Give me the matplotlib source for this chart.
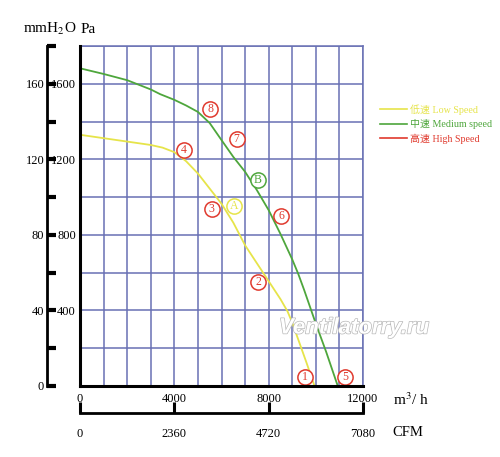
import numpy as np
import matplotlib
matplotlib.use("Agg")
import matplotlib.pyplot as plt
from matplotlib.lines import Line2D
import matplotlib.patheffects as pe

plt.rcParams['font.family'] = ['Liberation Serif', 'Noto Sans CJK SC']
plt.rcParams['mathtext.fontset'] = 'stix'

# low speed curve (m3/h, Pa)
low_flow = [0, 1000, 2000, 3000, 3500, 4000, 4500, 5000, 5500, 6000, 6500,
            7000, 7500, 8000, 8500, 8800, 9000, 9300, 9600, 9945]
low_pres = [1330, 1312, 1294, 1276, 1262, 1238, 1190, 1125, 1045, 965, 865,
            745, 650, 555, 460, 395, 335, 230, 125, 0]

# medium speed curve
med_flow = [0, 1000, 2000, 3000, 3400, 4000, 4500, 5000, 5500, 6000, 6500,
            7000, 7500, 8000, 8500, 9000, 9250, 9500, 9750, 10000, 10440, 10930]
med_pres = [1682, 1652, 1619, 1570, 1545, 1515, 1485, 1451, 1392, 1302, 1213,
            1134, 1037, 931, 805, 670, 595, 510, 420, 330, 180, 0]

# circled point labels
pt_names = ['8', '7', '4', 'B', '3', 'A', '6', '2', '1', '5']
pt_flow = [5515, 6640, 4420, 7550, 5590, 6530, 8540, 7550, 9520, 11250]
pt_pres = [1469, 1308, 1249, 1090, 937, 952, 899, 552, 49, 49]

x_ticks = [0, 4000, 8000, 12000]
pa_ticks = [400, 800, 1200, 1600]
mm_ticks = [0, 40, 80, 120, 160]
cfm_ticks = [0, 2360, 4720, 7080]

yellow = '#e6e44a'
green = '#4ea63c'
red = '#e03a2e'
gridc = '#6870b4'

fig = plt.figure(figsize=(5, 4.57), dpi=100)
ax = fig.add_axes([80/500, 71/457, 283/500, 340/457])
ax.set_xlim(0, 12000)
ax.set_ylim(0, 1800)

for x in np.arange(1000, 12001, 1000):
    ax.axvline(x, color=gridc, lw=1.1, zorder=1)
for y in np.arange(200, 1801, 200):
    ax.axhline(y, color=gridc, lw=1.1, zorder=1)

ax.plot(low_flow, low_pres, color=yellow, lw=1.3, zorder=3)
ax.plot(med_flow, med_pres, color=green, lw=1.3, zorder=3)

colors = {'A': yellow, 'B': green}
for n, fx, fy in zip(pt_names, pt_flow, pt_pres):
    c = colors.get(n, red)
    ax.scatter([fx], [fy], s=120, facecolors='white', edgecolors=c,
               linewidths=1.1, zorder=4)
    ax.text(fx, fy, n, color=c, fontsize=8.5, ha='center', va='center', zorder=5)

for s in ['top', 'right']:
    ax.spines[s].set_color(gridc)
    ax.spines[s].set_linewidth(1.1)
for s in ['left', 'bottom']:
    ax.spines[s].set_color('black')
    ax.spines[s].set_linewidth(2.2)
    ax.spines[s].set_zorder(6)

ax.set_xticks(x_ticks)
ax.set_yticks(pa_ticks)
ax.tick_params(axis='both', length=0, labelsize=9)
ax.tick_params(axis='x', pad=5)
ax.tick_params(axis='y', pad=3)

# mmH2O bracket axis
mm = ax.secondary_yaxis(-33/283, functions=(lambda p: p / 10, lambda m: m * 10))
mm.set_yticks(mm_ticks)
mm.set_yticks(np.arange(20, 181, 40), minor=True)
mm.tick_params(which='both', direction='in', length=6.5, width=3, labelsize=9, pad=2)
mm.spines['left'].set_linewidth(2)

# CFM axis
cfm = ax.secondary_xaxis(-27/340, functions=(lambda q: q * 0.59, lambda c: c / 0.59))
cfm.set_xticks(cfm_ticks)
cfm.tick_params(direction='in', length=8, width=2.2, labelsize=9, pad=11)
cfm.spines['bottom'].set_linewidth(2)

fig.text(23/500, 1 - 33/457, 'mmH$_2$O', fontsize=11, va='baseline')
fig.text(81/500, 1 - 33/457, 'Pa', fontsize=11, va='baseline')
fig.text(393/500, 1 - 400/457, 'm$^3$/ h', fontsize=11, va='center')
fig.text(392/500, 1 - 433/457, 'CFM', fontsize=10.5, va='center')

handles = [Line2D([], [], color=yellow, lw=1.2),
           Line2D([], [], color=green, lw=1.2),
           Line2D([], [], color=red, lw=1.2)]
labels = ['低速 Low Speed', '中速 Medium speed', '高速 High Speed']
leg = fig.legend(handles, labels, loc='upper left',
                 bbox_to_anchor=(380/500, 1 - 104/457), frameon=False,
                 fontsize=7.2, handlelength=2.7, handletextpad=0.3,
                 labelspacing=0.45, borderpad=0, borderaxespad=0)
for t, c in zip(leg.get_texts(), [yellow, green, red]):
    t.set_color(c)

ax.text(354/500, 1 - 328/457, 'Ventilatorry.ru', transform=fig.transFigure,
        fontsize=16, fontstyle='italic', fontweight='bold',
        family='Liberation Sans', color='white', ha='center', va='center',
        zorder=7, path_effects=[pe.withStroke(linewidth=1.0, foreground='#b8b8b8')])

fig.savefig('out.png', dpi=100)
